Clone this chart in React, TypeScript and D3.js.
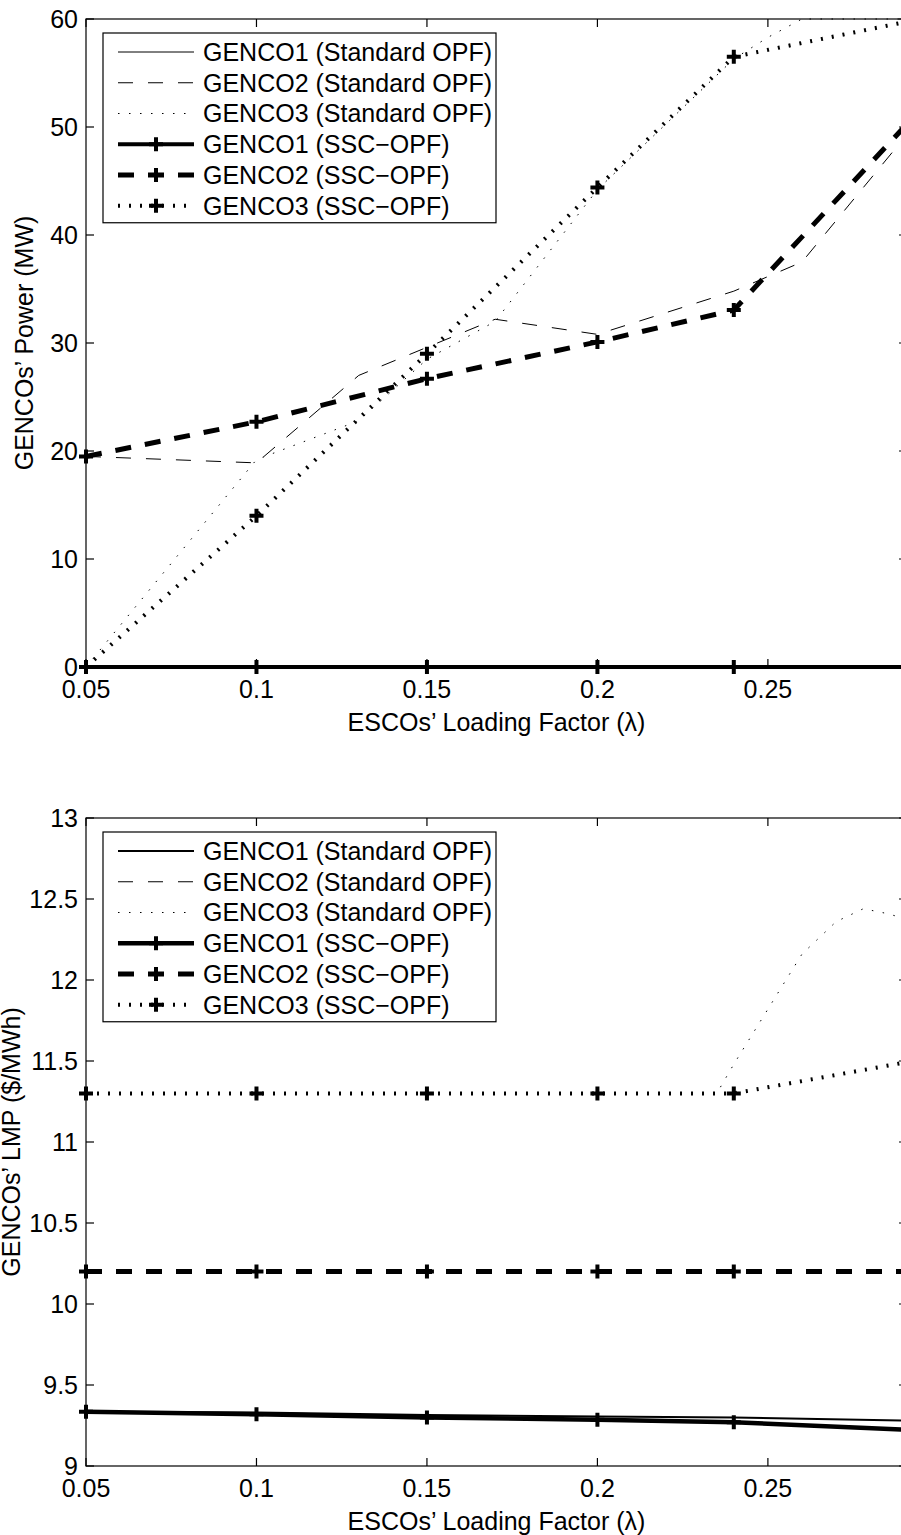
import React from 'react';
import * as d3 from 'd3';

// ---------- data ----------
const X_TICKS = [0.05, 0.1, 0.15, 0.2, 0.25];
const X_TICK_LABELS = ['0.05', '0.1', '0.15', '0.2', '0.25'];
const SSC_X = [0.05, 0.1, 0.15, 0.2, 0.24, 0.29];
const MARKER_COUNT = 5; // markers shown on first five SSC points

// Power chart
const POWER_TICKS = [0, 10, 20, 30, 40, 50, 60];
const P_STD1_X = [0.05, 0.1, 0.15, 0.2, 0.24, 0.29];
const P_STD1 = [0, 0, 0, 0, 0, 0];
const P_STD2_X = [0.05, 0.1, 0.13, 0.17, 0.2, 0.24, 0.26, 0.29];
const P_STD2 = [19.5, 18.9, 27.0, 32.2, 30.8, 34.8, 37.5, 49.0];
const P_STD3_X = [0.05, 0.1, 0.13, 0.15, 0.17, 0.2, 0.24, 0.25, 0.26, 0.29];
const P_STD3 = [0, 19.2, 22.8, 28.5, 32.0, 44.2, 56.3, 58.3, 60, 60];
const P_SSC1 = [0, 0, 0, 0, 0, 0];
const P_SSC2 = [19.5, 22.7, 26.7, 30.1, 33.05, 50.0];
const P_SSC3 = [0, 14.0, 29.0, 44.4, 56.5, 59.7];

// LMP chart
const LMP_TICKS = [9, 9.5, 10, 10.5, 11, 11.5, 12, 12.5, 13];
const LMP_TICK_LABELS = ['9', '9.5', '10', '10.5', '11', '11.5', '12', '12.5', '13'];
const L_STD1_X = [0.05, 0.1, 0.15, 0.2, 0.24, 0.29];
const L_STD1 = [9.335, 9.33, 9.315, 9.305, 9.3, 9.28];
const L_STD2_X = [0.05, 0.1, 0.15, 0.2, 0.24, 0.29];
const L_STD2 = [10.2, 10.2, 10.2, 10.2, 10.2, 10.2];
const L_STD3_X = [0.05, 0.1, 0.15, 0.2, 0.235, 0.24, 0.25, 0.26, 0.27, 0.278, 0.285, 0.29];
const L_STD3 = [11.3, 11.3, 11.3, 11.3, 11.3, 11.48, 11.82, 12.16, 12.36, 12.44, 12.41, 12.38];
const L_SSC1 = [9.335, 9.32, 9.3, 9.285, 9.27, 9.225];
const L_SSC2 = [10.2, 10.2, 10.2, 10.2, 10.2, 10.2];
const L_SSC3 = [11.3, 11.3, 11.3, 11.3, 11.3, 11.49];

const LEGEND_LABELS = [
  'GENCO1 (Standard OPF)',
  'GENCO2 (Standard OPF)',
  'GENCO3 (Standard OPF)',
  'GENCO1 (SSC\u2212OPF)',
  'GENCO2 (SSC\u2212OPF)',
  'GENCO3 (SSC\u2212OPF)',
];

// ---------- styles ----------
type Style = { w: number; dash: string | null; marker: boolean };
const FONT = '"Liberation Sans", Arial, Helvetica, sans-serif';
const FS = 25;

const X_MIN = 0.05;
const X_MAX = 0.2908;
const LEFT = 86;
const RIGHT = 907;

type Series = { x: number[]; y: number[]; style: Style };

function Chart(props: {
  top: number;
  bottom: number;
  yDomain: [number, number];
  yTicks: number[];
  yTickLabels: string[];
  yLabel: string;
  yLabelX: number;
  series: Series[];
  legendStyles: Style[];
}) {
  const { top, bottom, yDomain, yTicks, yTickLabels, yLabel, yLabelX, series, legendStyles } = props;
  const x = d3.scaleLinear().domain([X_MIN, X_MAX]).range([LEFT, RIGHT]);
  const y = d3.scaleLinear().domain(yDomain).range([bottom, top]);
  const tick = 8;
  const plus = 'M-7,0H7M0,-7V7';

  const legTop = top + 14;
  const legLeft = LEFT + 17;
  const rowH = 30.75;
  const legW = 393;
  const legH = 18 * 2 + rowH * 5;

  return (
    <g>
      {/* series */}
      {series.map((s, i) => {
        const pts = s.x.map((xv, j) => [x(xv), y(s.y[j])] as [number, number]);
        const line = d3.line()(pts) || '';
        return (
          <g key={i}>
            <path
              d={line}
              fill="none"
              stroke="#000"
              strokeWidth={s.style.w}
              strokeDasharray={s.style.dash || undefined}
              strokeLinecap="butt"
              strokeLinejoin="round"
            />
            {s.style.marker &&
              pts.slice(0, MARKER_COUNT).map((p, j) => (
                <path
                  key={j}
                  d={plus}
                  transform={`translate(${p[0]},${p[1]})`}
                  stroke="#000"
                  strokeWidth={4}
                  fill="none"
                />
              ))}
          </g>
        );
      })}

      {/* frame */}
      <rect x={LEFT} y={top} width={RIGHT - LEFT} height={bottom - top} fill="none" stroke="#000" strokeWidth={1.2} />
      {/* x ticks */}
      {X_TICKS.map((t, i) => (
        <g key={'xt' + i}>
          <line x1={x(t)} x2={x(t)} y1={bottom} y2={bottom - tick} stroke="#000" strokeWidth={1.2} />
          <line x1={x(t)} x2={x(t)} y1={top} y2={top + tick} stroke="#000" strokeWidth={1.2} />
          <text x={x(t)} y={bottom + 31} textAnchor="middle" fontFamily={FONT} fontSize={FS}>
            {X_TICK_LABELS[i]}
          </text>
        </g>
      ))}
      {/* y ticks */}
      {yTicks.map((t, i) => (
        <g key={'yt' + i}>
          <line x1={LEFT} x2={LEFT + tick} y1={y(t)} y2={y(t)} stroke="#000" strokeWidth={1.2} />
          <line x1={RIGHT} x2={RIGHT - tick} y1={y(t)} y2={y(t)} stroke="#000" strokeWidth={1.2} />
          <text x={78} y={y(t)} dy="0.35em" textAnchor="end" fontFamily={FONT} fontSize={FS}>
            {yTickLabels[i]}
          </text>
        </g>
      ))}
      {/* axis labels */}
      <text x={(LEFT + RIGHT) / 2} y={bottom + 64} textAnchor="middle" fontFamily={FONT} fontSize={FS}>
        ESCOs’ Loading Factor (λ)
      </text>
      <text
        transform={`translate(${yLabelX},${(top + bottom) / 2}) rotate(-90)`}
        textAnchor="middle"
        fontFamily={FONT}
        fontSize={FS}
      >
        {yLabel}
      </text>

      {/* legend */}
      <rect x={legLeft} y={legTop} width={legW} height={legH} fill="#fff" stroke="#000" strokeWidth={1.2} />
      {LEGEND_LABELS.map((lab, i) => {
        const cy = legTop + 19 + i * rowH;
        const st = legendStyles[i];
        return (
          <g key={'lg' + i}>
            <line
              x1={118}
              x2={194}
              y1={cy}
              y2={cy}
              stroke="#000"
              strokeWidth={st.w}
              strokeDasharray={st.dash || undefined}
            />
            {st.marker && (
              <path d={plus} transform={`translate(156,${cy})`} stroke="#000" strokeWidth={4} fill="none" />
            )}
            <text x={203} y={cy} dy="0.35em" fontFamily={FONT} fontSize={FS}>
              {lab}
            </text>
          </g>
        );
      })}
    </g>
  );
}

export default function App() {
  const topStyles: Style[] = [
    { w: 1, dash: null, marker: false },
    { w: 1, dash: '15,15', marker: false },
    { w: 1, dash: '1.5,9.5', marker: false },
    { w: 4, dash: null, marker: true },
    { w: 5, dash: '16,14', marker: true },
    { w: 4, dash: '2,9', marker: true },
  ];
  const botStyles: Style[] = [
    { w: 2, dash: null, marker: false },
    { w: 1, dash: '15,15', marker: false },
    { w: 1, dash: '1.5,9.5', marker: false },
    { w: 4.5, dash: null, marker: true },
    { w: 5, dash: '16,14', marker: true },
    { w: 4, dash: '2,9', marker: true },
  ];

  const powerSeries: Series[] = [
    { x: P_STD1_X, y: P_STD1, style: topStyles[0] },
    { x: P_STD2_X, y: P_STD2, style: topStyles[1] },
    { x: P_STD3_X, y: P_STD3, style: topStyles[2] },
    { x: SSC_X, y: P_SSC1, style: topStyles[3] },
    { x: SSC_X, y: P_SSC2, style: topStyles[4] },
    { x: SSC_X, y: P_SSC3, style: topStyles[5] },
  ];
  const lmpSeries: Series[] = [
    { x: L_STD1_X, y: L_STD1, style: botStyles[0] },
    { x: L_STD2_X, y: L_STD2, style: botStyles[1] },
    { x: L_STD3_X, y: L_STD3, style: botStyles[2] },
    { x: SSC_X, y: L_SSC1, style: botStyles[3] },
    { x: SSC_X, y: L_SSC2, style: botStyles[4] },
    { x: SSC_X, y: L_SSC3, style: botStyles[5] },
  ];

  return (
    <svg
      width={901}
      height={1535}
      style={{ position: 'absolute', left: 0, top: 0, background: '#fff' }}
    >
      <rect x={0} y={0} width={901} height={1535} fill="#fff" />
      <Chart
        top={19}
        bottom={667}
        yDomain={[0, 60]}
        yTicks={POWER_TICKS}
        yTickLabels={POWER_TICKS.map(String)}
        yLabel="GENCOs’ Power (MW)"
        yLabelX={33}
        series={powerSeries}
        legendStyles={topStyles}
      />
      <Chart
        top={818}
        bottom={1466}
        yDomain={[9, 13]}
        yTicks={LMP_TICKS}
        yTickLabels={LMP_TICK_LABELS}
        yLabel="GENCOs’ LMP ($/MWh)"
        yLabelX={20}
        series={lmpSeries}
        legendStyles={botStyles}
      />
    </svg>
  );
}
